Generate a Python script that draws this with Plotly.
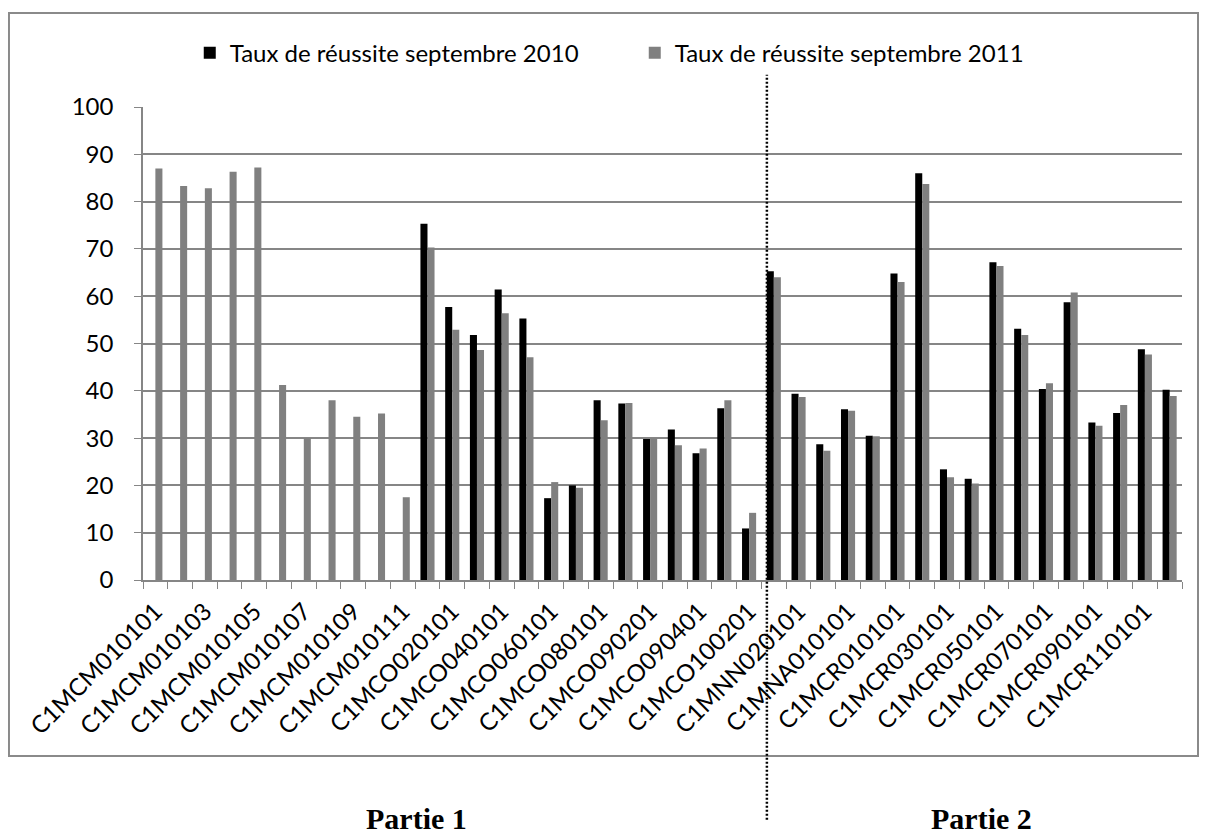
import plotly.graph_objects as go

# one entry per module, only every other one gets a label under the axis
modules = [
    'C1MCM010101', 'C1MCM010102', 'C1MCM010103', 'C1MCM010104', 'C1MCM010105',
    'C1MCM010106', 'C1MCM010107', 'C1MCM010108', 'C1MCM010109', 'C1MCM010110',
    'C1MCM010111', 'C1MCO010101', 'C1MCO020101', 'C1MCO030101', 'C1MCO040101',
    'C1MCO050101', 'C1MCO060101', 'C1MCO070101', 'C1MCO080101', 'C1MCO090101',
    'C1MCO090201', 'C1MCO090301', 'C1MCO090401', 'C1MCO100101', 'C1MCO100201',
    'C1MNN010101', 'C1MNN020101', 'C1MNN030101', 'C1MNA010101', 'C1MNA020101',
    'C1MCR010101', 'C1MCR020101', 'C1MCR030101', 'C1MCR040101', 'C1MCR050101',
    'C1MCR060101', 'C1MCR070101', 'C1MCR080101', 'C1MCR090101', 'C1MCR100101',
    'C1MCR110101', 'C1MCR120101',
]

# no 2010 figure for the C1MCM modules
taux_2010 = [
    None, None, None, None, None, None, None, None, None, None, None,
    75.3, 57.7, 51.8, 61.4, 55.3, 17.3, 20.0, 38.0, 37.3, 29.8, 31.8, 26.8,
    36.3, 10.9, 65.3, 39.4, 28.7, 36.1, 30.5, 64.8, 86.0, 23.4, 21.4, 67.2,
    53.1, 40.4, 58.7, 33.3, 35.3, 48.8, 40.2,
]

taux_2011 = [
    87.0, 83.3, 82.8, 86.3, 87.2, 41.2, 30.0, 38.0, 34.5, 35.2, 17.5,
    70.3, 52.9, 48.6, 56.4, 47.1, 20.7, 19.5, 33.8, 37.4, 29.9, 28.5, 27.8,
    38.0, 14.2, 64.0, 38.7, 27.3, 35.8, 30.4, 63.0, 83.7, 21.7, 20.4, 66.4,
    51.8, 41.6, 60.8, 32.6, 37.0, 47.7, 38.9,
]

series_names = ['Taux de réussite septembre 2010', 'Taux de réussite septembre 2011']
y_ticks = list(range(0, 101, 10))

# label every second module, like the original sheet
tick_text = [m if i % 2 == 0 else '' for i, m in enumerate(modules)]

GRID = '#868686'
FONT = dict(family='Lato, Liberation Sans, sans-serif', size=24, color='black')

fig = go.Figure()
fig.add_trace(go.Bar(x=modules, y=taux_2010, name=series_names[0],
                     marker=dict(color='#000000', line=dict(width=0))))
fig.add_trace(go.Bar(x=modules, y=taux_2011, name=series_names[1],
                     marker=dict(color='#808080', line=dict(width=0))))

# the page body adds an 8px margin, so the figure is 8px short on each side
fig.update_layout(
    width=1200, height=829,
    margin=dict(l=135, r=26, t=99, b=257, autoexpand=False),
    paper_bgcolor='white', plot_bgcolor='white',
    font=FONT,
    barmode='group', bargap=0.43, bargroupgap=0,
    showlegend=True,
    legend=dict(orientation='h', x=0.045, xanchor='left', y=1.114, yanchor='middle',
                entrywidth=400, font=FONT, bgcolor='rgba(0,0,0,0)'),
    xaxis=dict(type='category', tickmode='array', tickvals=modules, ticktext=tick_text,
               tickson='boundaries', ticks='outside', ticklen=7, tickcolor=GRID,
               tickangle=-45, showline=True, linecolor=GRID, linewidth=1.5,
               showgrid=False, ticklabelstandoff=6),
    yaxis=dict(range=[0, 100], tickvals=y_ticks, ticks='outside', ticklen=7,
               tickcolor=GRID, showline=True, linecolor=GRID, linewidth=1.5,
               showgrid=True, gridcolor=GRID, gridwidth=1.5, zeroline=False,
               ticklabelstandoff=16),
)

# outer chart frame
fig.add_shape(type='rect', xref='paper', yref='paper',
              x0=-0.129, x1=1.0154, y0=-0.372, y1=1.1987,
              line=dict(color='#8a8a8a', width=2), layer='below')

# dotted separator between the two parts
fig.add_shape(type='line', xref='x', yref='paper', x0=24.72, x1=24.72,
              y0=-0.507, y1=1.068, line=dict(color='black', width=2.5, dash='2px,2px'),
              layer='above')

for label, xpos in [('Partie 1', 0.2637), ('Partie 2', 0.807)]:
    fig.add_annotation(text=f'<b>{label}</b>', xref='paper', yref='paper',
                       x=xpos, y=-0.505, xanchor='center', yanchor='middle',
                       showarrow=False,
                       font=dict(family='Liberation Serif, Times New Roman, serif',
                                 size=30, color='black'))

fig.write_html('out.html')
